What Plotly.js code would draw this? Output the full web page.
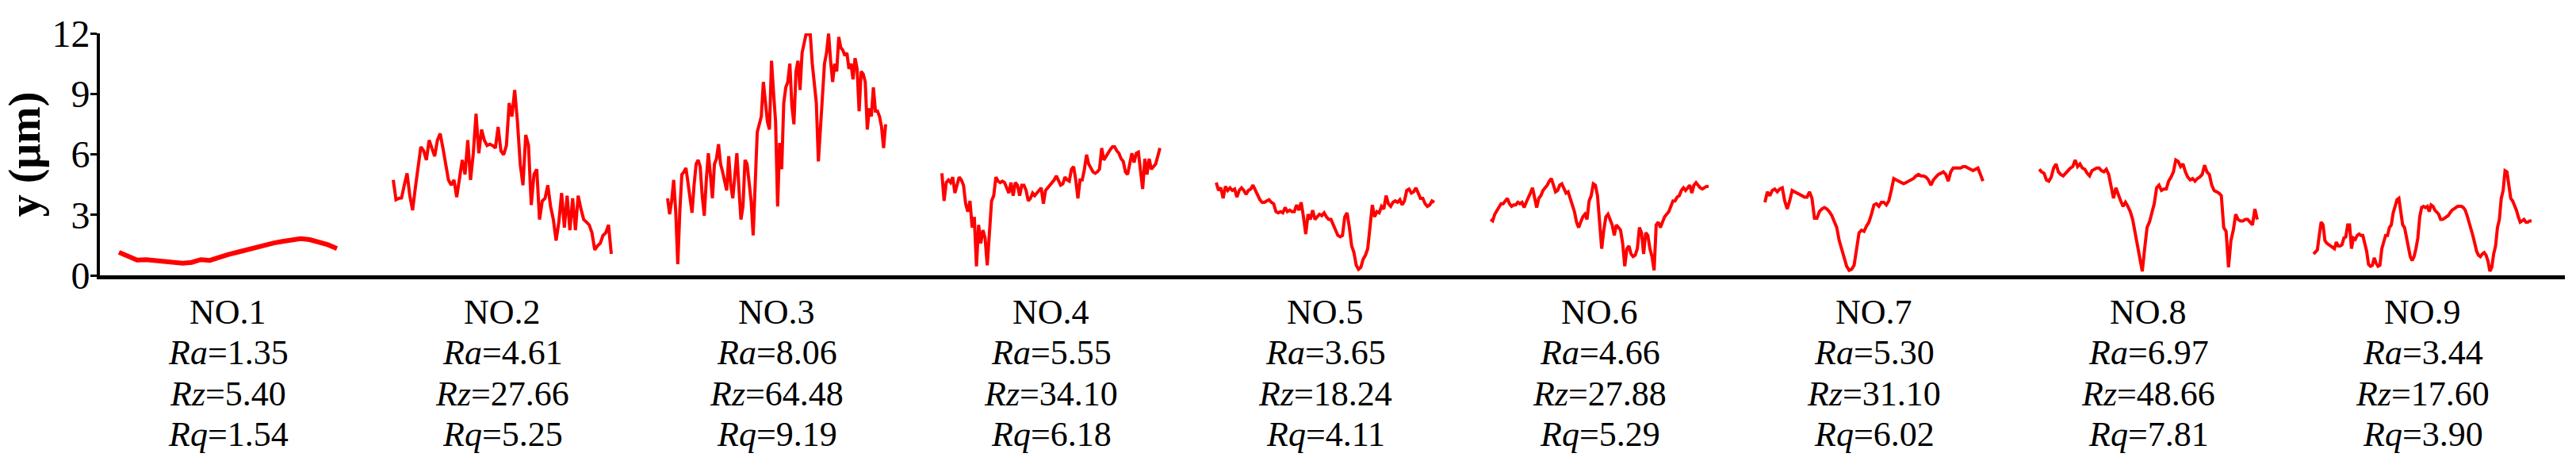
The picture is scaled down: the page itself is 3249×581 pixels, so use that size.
<!DOCTYPE html>
<html>
<head>
<meta charset="utf-8">
<script src="https://cdn.plot.ly/plotly-3.0.1.min.js"></script>
<style>
  html, body { margin: 0; padding: 0; background: #fff; }
  #Graph { width: 3249px; height: 581px; }
</style>
</head>
<body>
<div id="Graph"></div>
<script>
// sample names and roughness parameters (um)
var names = ['NO.1', 'NO.2', 'NO.3', 'NO.4', 'NO.5', 'NO.6', 'NO.7', 'NO.8', 'NO.9'];
var Ra = [1.35, 4.61, 8.06, 5.55, 3.65, 4.66, 5.30, 6.97, 3.44];
var Rz = [5.40, 27.66, 64.48, 34.10, 18.24, 27.88, 31.10, 48.66, 17.60];
var Rq = [1.54, 5.25, 9.19, 6.18, 4.11, 5.29, 6.02, 7.81, 3.90];
var yTicks = [0, 3, 6, 9, 12];

// profile heights y (um), evenly spaced along each trace
var p1 = [1.14, 0.92, 0.76, 0.78, 0.73, 0.66, 0.61, 0.60, 0.64, 0.78, 0.74, 0.90, 1.03, 1.14, 1.27, 1.38, 1.50, 1.60, 1.68, 1.74, 1.82, 1.77, 1.65, 1.52, 1.33];
var p2 = [4.73, 3.75, 3.82, 3.84, 4.47, 5.06, 3.95, 3.23, 4.34, 5.52, 6.37, 6.18, 5.72, 6.70, 6.31, 5.91, 6.70, 7.03, 6.31, 5.52,
          4.73, 4.47, 4.73, 3.88, 4.73, 5.72, 5.00, 6.70, 4.73, 6.05, 8.01, 6.05, 7.23, 6.70, 6.44, 6.50, 6.44, 6.31, 7.36, 6.18,
          5.98, 6.44, 8.54, 7.88, 9.19, 7.62, 5.52, 4.47, 6.96, 6.44, 3.49, 5.00, 5.26, 2.77, 3.69, 3.82, 4.47, 3.42, 2.77, 1.72,
          2.64, 4.08, 2.37, 3.95, 2.24, 3.82, 2.24, 3.95, 3.29, 2.77, 2.64, 2.50, 2.11, 1.26, 1.46, 1.59, 1.98, 2.11, 2.50, 1.06];
var p3 = [3.82, 3.03, 3.69, 4.73, 3.16, 0.55, 3.16, 5.00, 5.13, 5.32, 4.60, 3.95, 3.10, 4.47, 5.52, 5.72, 5.39, 3.95, 2.96, 4.73,
          6.05, 5.00, 3.82, 5.52, 5.78, 6.50, 5.52, 5.13, 4.73, 4.21, 5.91, 4.47, 3.82, 5.00, 6.05, 4.34, 2.77, 3.42, 5.72, 5.52,
          4.73, 3.69, 1.98, 4.47, 7.10, 7.49, 7.88, 9.59, 8.54, 7.62, 7.23, 10.64, 9.06, 7.62, 3.42, 6.57, 5.26, 8.54, 9.32, 9.59,
          10.50, 8.41, 7.49, 10.11, 10.64, 9.19, 11.03, 11.55, 11.98, 11.95, 12.00, 10.50, 9.46, 8.54, 5.65, 7.23, 9.06, 10.50, 11.03, 11.98,
          10.64, 9.59, 10.50, 10.11, 11.82, 11.29, 11.16, 10.90, 11.03, 10.24, 10.50, 9.72, 10.77, 10.24, 8.14, 10.11, 9.98, 9.59, 7.23, 8.28,
          7.88, 9.32, 8.14, 8.14, 7.88, 7.36, 6.31, 7.49];
var p4 = [5.06, 3.69, 4.60, 4.73, 4.60, 4.87, 4.08, 4.47, 4.87, 4.73, 4.47, 3.55, 3.16, 3.69, 2.37, 2.90, 0.45, 2.50, 1.59, 2.24,
          1.85, 0.50, 1.85, 3.69, 3.95, 4.87, 4.67, 4.60, 4.67, 4.60, 4.34, 4.08, 4.60, 3.95, 4.60, 4.47, 3.95, 4.47, 4.47, 4.21,
          3.69, 3.82, 4.08, 3.95, 4.08, 4.21, 4.34, 3.55, 4.21, 4.34, 4.47, 4.60, 4.73, 4.93, 4.73, 4.47, 4.54, 4.87, 4.73, 4.67,
          5.26, 5.39, 4.73, 3.82, 4.73, 4.73, 5.26, 5.98, 5.52, 5.32, 5.13, 5.06, 5.13, 5.26, 6.31, 5.72, 5.91, 6.05, 6.24, 6.37,
          6.37, 6.18, 6.05, 5.78, 5.65, 5.13, 5.00, 5.52, 6.05, 5.59, 6.05, 6.11, 5.26, 4.28, 5.78, 5.00, 5.78, 5.26, 5.39, 5.52,
          5.91, 6.31];
var p5 = [4.60, 4.21, 4.34, 3.82, 4.41, 4.21, 4.34, 4.21, 4.28, 3.88, 4.21, 4.34, 4.21, 4.01, 4.21, 4.28, 4.47, 4.21, 3.95, 3.75,
          3.62, 3.62, 3.69, 3.75, 3.62, 3.55, 3.16, 3.10, 3.16, 3.10, 3.36, 3.16, 3.23, 3.16, 3.16, 3.49, 3.23, 3.62, 2.90, 2.05,
          3.03, 2.77, 3.23, 2.77, 2.90, 3.03, 2.96, 3.10, 2.90, 2.77, 2.77, 2.50, 2.18, 1.98, 1.91, 1.98, 2.90, 3.10, 2.37, 1.46,
          1.13, 0.50, 0.30, 0.40, 0.80, 1.00, 1.32, 2.50, 3.49, 2.90, 3.16, 3.10, 3.42, 3.29, 3.95, 3.55, 3.42, 3.62, 3.69, 3.62,
          3.75, 3.49, 3.69, 4.21, 4.28, 4.08, 4.14, 4.34, 4.08, 3.82, 3.82, 3.55, 3.42, 3.49, 3.69, 3.62];
var p6 = [2.77, 2.70, 3.03, 3.23, 3.36, 3.55, 3.55, 3.69, 3.82, 3.55, 3.42, 3.49, 3.49, 3.62, 3.55, 3.62, 3.36, 3.62, 3.82, 4.08,
          4.34, 3.82, 3.36, 3.82, 3.95, 4.21, 4.34, 4.47, 4.67, 4.80, 4.47, 4.14, 4.21, 4.47, 4.54, 4.34, 4.08, 4.14, 3.82, 3.55,
          3.16, 2.64, 2.37, 2.64, 2.90, 3.03, 2.77, 3.69, 3.95, 4.54, 4.47, 3.95, 2.37, 1.32, 2.24, 2.90, 3.03, 2.77, 2.50, 1.98,
          2.50, 2.37, 2.24, 1.59, 0.45, 1.32, 1.46, 1.06, 0.93, 1.00, 1.32, 2.37, 2.11, 1.06, 2.11, 1.98, 1.32, 0.93, 0.25, 2.50,
          2.64, 2.37, 2.64, 2.90, 3.03, 3.16, 3.42, 3.69, 3.69, 3.88, 3.95, 4.21, 4.34, 4.21, 4.34, 4.47, 4.08, 4.47, 4.60, 4.47,
          4.34, 4.28, 4.34, 4.41, 4.41];
var p7 = [3.62, 4.14, 3.95, 4.21, 4.28, 4.14, 4.28, 4.34, 3.69, 3.29, 3.69, 4.21, 4.14, 4.08, 4.01, 3.95, 3.88, 3.88, 4.14, 3.82,
          2.83, 2.83, 3.16, 3.29, 3.36, 3.29, 3.16, 2.96, 2.70, 2.37, 1.72, 1.32, 0.93, 0.45, 0.25, 0.30, 0.50, 1.32, 2.11, 2.24,
          2.18, 2.44, 2.64, 3.03, 3.49, 3.55, 3.42, 3.62, 3.62, 3.49, 3.69, 4.21, 4.80, 4.73, 4.67, 4.60, 4.54, 4.60, 4.67, 4.73,
          4.80, 4.93, 5.00, 4.93, 4.93, 4.87, 4.73, 4.47, 4.73, 4.87, 5.00, 5.06, 5.13, 5.00, 4.67, 5.13, 5.32, 5.32, 5.32, 5.32,
          5.39, 5.39, 5.32, 5.26, 5.19, 5.26, 5.32, 5.00, 4.67];
var p8 = [5.26, 5.13, 5.06, 4.73, 4.67, 4.87, 5.32, 5.52, 5.13, 5.00, 4.93, 5.06, 5.19, 5.32, 5.39, 5.72, 5.39, 5.52, 5.32, 5.26,
          5.06, 4.93, 5.19, 5.26, 5.32, 5.32, 5.19, 5.13, 5.26, 5.00, 4.47, 3.82, 4.34, 3.95, 3.69, 3.42, 3.62, 3.42, 3.16, 2.77,
          2.11, 1.46, 0.93, 0.20, 1.32, 2.37, 2.64, 3.03, 3.55, 4.34, 4.47, 4.21, 4.28, 4.28, 4.67, 4.87, 5.13, 5.72, 5.65, 5.39,
          5.52, 5.13, 4.87, 4.73, 4.80, 4.67, 4.80, 4.87, 5.00, 5.46, 5.13, 5.00, 4.47, 4.21, 4.14, 4.08, 3.95, 2.37, 2.18, 0.40,
          1.72, 2.24, 3.03, 2.77, 2.70, 2.70, 2.77, 2.77, 2.64, 2.50, 3.29, 2.77];
var p9 = [1.06, 1.19, 1.26, 1.98, 2.64, 2.50, 1.72, 1.59, 1.52, 1.46, 1.39, 1.32, 1.65, 1.46, 1.46, 1.52, 1.85, 1.91, 2.50, 2.50,
          1.32, 1.85, 1.78, 1.98, 2.05, 1.98, 1.98, 1.59, 1.19, 0.54, 0.45, 0.50, 0.87, 0.60, 0.45, 0.50, 1.32, 1.65, 1.98, 1.98,
          2.37, 2.50, 3.10, 3.42, 3.75, 3.82, 3.16, 2.50, 2.37, 1.85, 1.32, 0.93, 0.73, 0.93, 1.32, 1.85, 2.90, 3.36, 3.42, 3.36,
          3.42, 3.16, 3.49, 3.42, 3.23, 3.10, 3.03, 2.77, 2.77, 2.83, 2.90, 2.96, 3.10, 3.23, 3.29, 3.36, 3.42, 3.42, 3.42, 3.36,
          3.23, 2.96, 2.64, 2.37, 1.98, 1.59, 1.19, 1.00, 0.93, 1.06, 1.13, 1.00, 0.70, 0.20, 0.40, 1.06, 1.46, 2.37, 2.77, 3.82,
          4.21, 5.19, 5.13, 4.47, 3.82, 3.69, 3.49, 3.23, 2.90, 2.64, 2.70, 2.77, 2.64, 2.64, 2.70, 2.70];

var profiles = [p1, p2, p3, p4, p5, p6, p7, p8, p9];

// placement of the traces along the x axis (axis units = px of plot area)
var START = 24;
var GAP = 346;
var SEG = 275;
var serif = 'Liberation Serif, Times New Roman, serif';
// rows of the label block, paper units below the x axis
var rowY = [-0.151, -0.320, -0.489, -0.657];

window.onload = function() {
    var data = [];
    var annotations = [];
    for (var k = 0; k < profiles.length; k++) {
        var ys = profiles[k];
        var xs = [];
        for (var i = 0; i < ys.length; i++) {
            xs.push(START + k * GAP + SEG * i / (ys.length - 1));
        } //end for i
        data.push({
            x: xs,
            y: ys,
            mode: 'lines',
            line: { color: '#ff0000', width: k === 0 ? 6 : 4 },
            hoverinfo: 'skip',
            showlegend: false
        });

        // label block under each trace: name, Ra, Rz, Rq
        var cx = START + k * GAP + SEG / 2;
        var lines = [
            names[k],
            '<i>Ra</i>=' + Ra[k].toFixed(2),
            '<i>Rz</i>=' + Rz[k].toFixed(2),
            '<i>Rq</i>=' + Rq[k].toFixed(2)
        ];
        for (var j = 0; j < lines.length; j++) {
            annotations.push({
                x: cx, xref: 'x',
                y: rowY[j], yref: 'paper',
                text: lines[j],
                showarrow: false,
                borderpad: 0, borderwidth: 0,
                xanchor: 'center', yanchor: 'middle',
                font: { family: serif, size: 44, color: '#000' }
            });
        } //end for j
    } //end for k

    var layout = {
        width: 3249,
        height: 581,
        margin: { l: 126, r: 14, t: 42, b: 234 },
        paper_bgcolor: '#fff',
        plot_bgcolor: '#fff',
        showlegend: false,
        xaxis: {
            range: [0, 3109],
            showline: true, linecolor: '#000', linewidth: 5,
            showgrid: false, zeroline: false,
            showticklabels: false, ticks: ''
        },
        yaxis: {
            range: [0, 12],
            tickvals: yTicks,
            ticktext: yTicks.map(String),
            showline: true, linecolor: '#000', linewidth: 4,
            ticks: 'outside', ticklen: 8, tickwidth: 3, tickcolor: '#000',
            ticklabelstandoff: -9,
            showgrid: false, zeroline: false,
            tickfont: { family: serif, size: 48, color: '#000' },
            title: {
                text: 'y (μm)',
                standoff: 6,
                font: { family: serif, size: 56, color: '#000', weight: 'bold' }
            }
        },
        annotations: annotations
    };

    Plotly.newPlot('Graph', data, layout, { displayModeBar: false, staticPlot: true });
} //end window.onload
</script>
</body>
</html>
